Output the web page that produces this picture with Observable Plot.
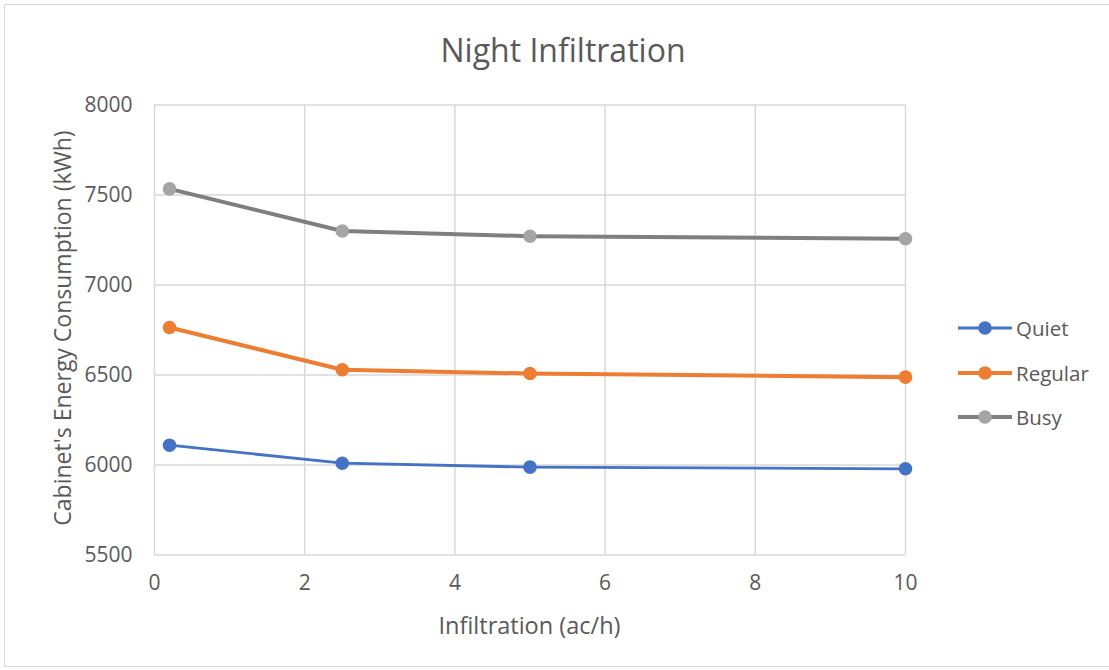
<!DOCTYPE html>
<html>
<head>
<meta charset="utf-8">
<script src="https://cdn.jsdelivr.net/npm/d3@7"></script>
<script src="https://cdn.jsdelivr.net/npm/@observablehq/plot@0.6"></script>
<style>
  html, body { margin: 0; padding: 0; background: #fff; }
  #chart { position: relative; width: 1109px; height: 670px; overflow: hidden; font-family: "Open Sans", Lato, sans-serif; color: #595959; }
  #frame { position: absolute; left: 4px; top: 4px; width: 1120px; height: 663px; border: 1.5px solid #d9d9d9; box-sizing: border-box; }
  #plot { position: absolute; left: 0; top: 0; }
  .txt { position: absolute; white-space: nowrap; line-height: 1; color: #595959; }
  #title { left: 563px; top: 50px; transform: translate(-50%, -50%); font-size: 32px; }
  #xtitle { left: 529.5px; top: 626px; transform: translate(-50%, -50%); font-size: 23.5px; }
  #ytitle { left: 62px; top: 328px; transform: translate(-50%, -50%) rotate(-90deg); font-size: 23px; }
  #legend { position: absolute; left: 957px; top: 306px; }
  .item { display: flex; align-items: center; height: 44.5px; font-size: 20.5px; }
  .item svg { margin-right: 3px; }
</style>
</head>
<body>
<div id="chart">
  <div id="frame"></div>
  <div id="plot"></div>
  <div id="title" class="txt">Night Infiltration</div>
  <div id="xtitle" class="txt">Infiltration (ac/h)</div>
  <div id="ytitle" class="txt">Cabinet's Energy Consumption (kWh)</div>
  <div id="legend"></div>
</div>
<script>
// Infiltration rates (ac/h) and yearly cabinet energy use (kWh) per traffic profile
const infiltration = [0.2, 2.5, 5, 10];
const quiet   = [6110, 6010, 5988, 5979];
const regular = [6764, 6529, 6508, 6488];
const busy    = [7534, 7300, 7271, 7257];

const xTicks = [0, 2, 4, 6, 8, 10];
const yTicks = [5500, 6000, 6500, 7000, 7500, 8000];

const series = [
  {name: "Quiet",   values: quiet,   line: "#4472c4", dot: "#4472c4", width: 2.8},
  {name: "Regular", values: regular, line: "#ed7d31", dot: "#ed7d31", width: 4},
  {name: "Busy",    values: busy,    line: "#7f7f7f", dot: "#a5a5a5", width: 4}
];

const rows = series.flatMap(s => s.values.map((v, i) => ({series: s.name, x: infiltration[i], y: v})));

const lineMarks = series.flatMap(s => {
  const data = rows.filter(r => r.series === s.name);
  return [
    Plot.line(data, {x: "x", y: "y", stroke: s.line, strokeWidth: s.width}),
    Plot.dot(data, {x: "x", y: "y", fill: s.dot, r: 6.8})
  ];
});

const chart = Plot.plot({
  width: 1109,
  height: 670,
  marginLeft: 154,
  marginRight: 204,
  marginTop: 104.5,
  marginBottom: 115.5,
  style: {fontFamily: "'Open Sans', Lato, sans-serif", fontSize: "21px", color: "#595959", background: "transparent", overflow: "visible"},
  x: {domain: [0, 10]},
  y: {domain: [5500, 8000]},
  marks: [
    Plot.gridX(xTicks, {stroke: "#d9d9d9", strokeOpacity: 1, strokeWidth: 1.5}),
    Plot.gridY(yTicks, {stroke: "#d9d9d9", strokeOpacity: 1, strokeWidth: 1.5}),
    Plot.axisX(xTicks, {tickSize: 0, tickPadding: 20, fontSize: 21, fill: "#595959", label: null, tickFormat: d => String(d)}),
    Plot.axisY(yTicks, {tickSize: 0, tickPadding: 22, fontSize: 21, fill: "#595959", label: null, tickFormat: d => String(d)}),
    ...lineMarks
  ]
});
document.getElementById("plot").append(chart);

// Legend: line sample with a centered marker, then the series name
const legend = d3.select("#legend");
series.forEach(s => {
  const item = legend.append("div").attr("class", "item");
  const svg = item.append("svg").attr("width", 56).attr("height", 16);
  svg.append("line").attr("x1", 1).attr("x2", 55).attr("y1", 8).attr("y2", 8)
    .attr("stroke", s.line).attr("stroke-width", s.width);
  svg.append("circle").attr("cx", 28).attr("cy", 8).attr("r", 6.8).attr("fill", s.dot);
  item.append("span").text(s.name);
});
</script>
</body>
</html>
